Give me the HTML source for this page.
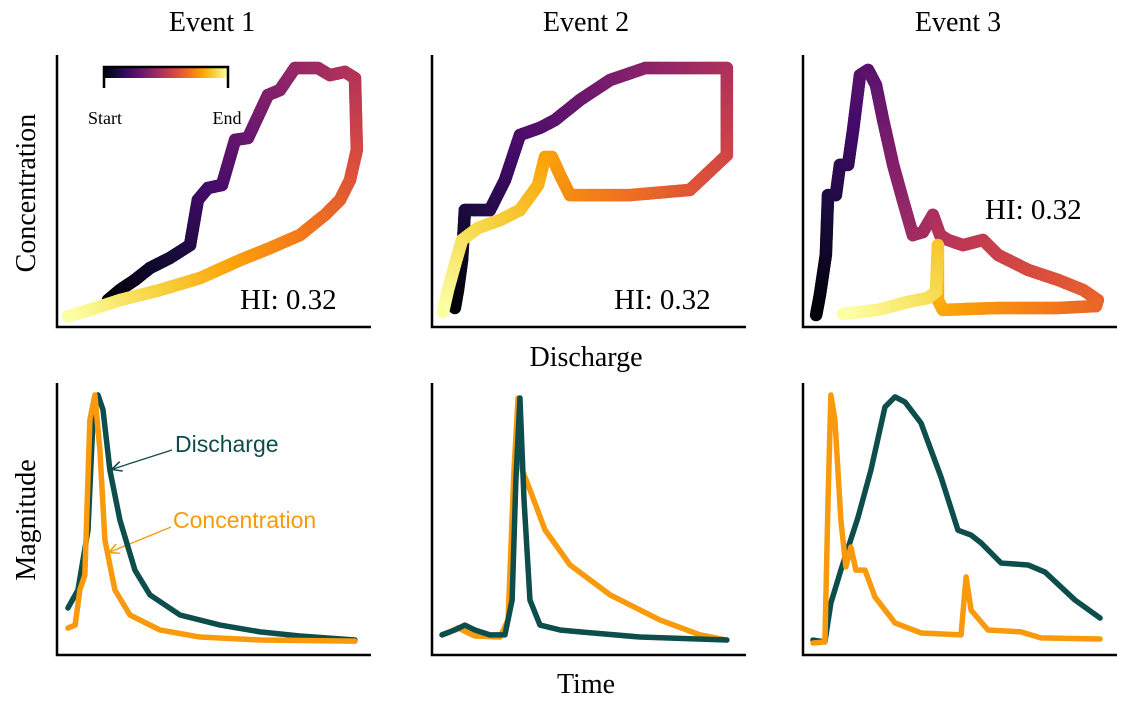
<!DOCTYPE html>
<html><head><meta charset="utf-8"><style>
body{margin:0;background:#fff;}
svg{display:block;font-family:"Liberation Serif",serif;}
</style></head><body>
<svg id="fig" width="1129" height="704" viewBox="0 0 1129 704">
<defs>
<linearGradient id="inf" x1="0" x2="1" y1="0" y2="0">
<stop offset="0" stop-color="#000004"/><stop offset="0.1" stop-color="#160b39"/><stop offset="0.2" stop-color="#420a68"/><stop offset="0.3" stop-color="#6a176e"/><stop offset="0.4" stop-color="#932667"/><stop offset="0.5" stop-color="#bc3754"/><stop offset="0.6" stop-color="#dd513a"/><stop offset="0.7" stop-color="#f37819"/><stop offset="0.8" stop-color="#fca50a"/><stop offset="0.9" stop-color="#f6d746"/><stop offset="1" stop-color="#fcffa4"/>
</linearGradient>
<marker id="arT" markerWidth="8" markerHeight="8" refX="7" refY="4" orient="auto"><path d="M0,0 L8,4 L0,8" fill="none" stroke="#0d4d4b" stroke-width="1.2"/></marker>
<marker id="arO" markerWidth="8" markerHeight="8" refX="7" refY="4" orient="auto"><path d="M0,0 L8,4 L0,8" fill="none" stroke="#f89a0c" stroke-width="1.2"/></marker>
</defs>
<text x="212" y="31" font-size="28" text-anchor="middle">Event 1</text>
<text x="586" y="31" font-size="28" text-anchor="middle">Event 2</text>
<text x="958" y="31" font-size="28" text-anchor="middle">Event 3</text>
<text transform="translate(35,193) rotate(-90)" font-size="28" text-anchor="middle">Concentration</text>
<text x="586" y="366" font-size="28" text-anchor="middle">Discharge</text>
<text transform="translate(35,520) rotate(-90)" font-size="28" text-anchor="middle">Magnitude</text>
<text x="586" y="693" font-size="28" text-anchor="middle">Time</text>
<g>
<rect x="104" y="67" width="124" height="11" fill="url(#inf)"/>
<path d="M104,88 V67 H228 V88" fill="none" stroke="#000" stroke-width="2.5"/>
<text x="105" y="124" font-size="18" text-anchor="middle">Start</text>
<text x="227" y="124" font-size="18" text-anchor="middle">End</text>
</g>
<text x="240" y="309" font-size="29">HI: 0.32</text>
<text x="614" y="309" font-size="29">HI: 0.32</text>
<text x="985" y="219" font-size="29">HI: 0.32</text>
<g>
<text x="175" y="452" font-size="23" fill="#0d4d4b" font-family="Liberation Sans,sans-serif">Discharge</text>
<line x1="172" y1="450" x2="113" y2="469" stroke="#0d4d4b" stroke-width="1.3" marker-end="url(#arT)"/>
</g>
<g>
<text x="173" y="528" font-size="23" fill="#f89a0c" font-family="Liberation Sans,sans-serif">Concentration</text>
<line x1="171" y1="527" x2="110" y2="552" stroke="#f89a0c" stroke-width="1.3" marker-end="url(#arO)"/>
</g>
<g id="marks"></g>
</svg>
<script>
// Hysteresis loops (discharge %, concentration %)
const hq1=[16.3,20.1,24.9,29.7,36.1,42.5,45,48.2,52.7,56.9,61,67.4,71.2,76,83.4,87.2,92,95.2,95.8,93.6,90.4,85.6,77.6,68,58.5,45.7,32.9,20.1,10.5,3.5];
const hc1=[9.9,13.6,17.3,21.7,25.4,30.1,46.7,51.1,52.2,68.8,69.5,85.3,87.1,95.2,95.2,92.6,93.8,91.5,65.1,54,46.7,41.2,33.8,29,24.6,18,13.6,9.9,6.3,4];
const hq2=[7.3,8.3,9.6,10.5,18.5,23.3,28.1,34.5,39.3,47.3,56.9,68.1,85.6,94.2,94.2,82.4,63.3,44.1,40.9,38.3,36.1,33.9,28.1,21.7,14.7,9.6,7.3,5.1,3.5];
const hc2=[7,13.6,24.6,43,43,54,70.6,73.2,76.1,83.5,90.8,95.2,95.2,95.2,63.2,50.4,48.5,48.5,55.9,62.5,62.5,52.2,43,39.3,36.4,32,22.8,13.6,5.5];
const hq3=[4.2,5.4,7.3,8,10.5,11.8,14.4,16,18.2,20.8,23.3,25.6,28.8,31.9,35.1,38.3,41.5,43.8,46.3,51.1,57.5,62.3,71.9,81.5,89.5,94.2,93.6,81.5,62.3,44.7,43.1,43.1,42.5,39.9,33.5,23.9,12.8];
const hc3=[4.4,11.8,26.5,48.5,48.5,59.6,59.6,72.4,92.6,94.5,89,76.1,59.6,46.7,33.8,34.9,41.2,33.8,32,30.1,32,26.5,21,17.3,13.6,9.9,7.7,7,7,6.3,9.9,30.1,12.9,10.7,9.2,6.3,4.8];
// Time series (time %, magnitude %)
const t1q=[3.5,6.7,9.9,11.5,13.1,14.7,16.9,20.1,24.9,29.7,39.3,52.1,64.9,77.6,95.2];
const m1q=[17.3,23.9,45.9,86.4,95.6,90.1,68,49.6,31.2,22.1,14.7,11,8.5,7,5.5];
const t1c=[3.5,5.8,7.3,8.9,10.5,12.1,13.7,15.3,18.5,23.3,32.9,45.7,64.9,95.2];
const m1c=[9.9,11,23.9,29.4,86.4,95.6,75.4,42.3,23.9,14.7,9.2,6.6,5.5,5.1];
const t2q=[3.2,7.3,10.5,13.7,18.5,23.3,25.6,26.8,28.1,29.4,31.3,34.5,40.9,47.3,66.5,94.2];
const m2q=[7.4,9.2,11,9.2,7.4,7.4,20.2,64.3,94.5,57,20.2,11,9.2,8.5,6.6,5.5];
const t2c=[3.2,5.8,8.3,10.9,13.7,21.7,24.3,26.2,27.5,28.8,31.3,36.1,44.1,56.9,72.8,85.6,94.2];
const m2c=[7.4,8.5,10,8.5,7,6.6,12.9,68,94.5,68,60.7,46,33.1,22.1,12.9,7.4,5.5];
const t3q=[3.2,7,8.9,12.1,17.6,21.7,26.2,29.4,32.6,37.7,44.1,49.5,53.7,56.9,63.3,71.9,77.3,86.9,94.9];
const m3q=[5.5,4.8,19.1,31.2,50.7,68,91.2,94.9,93,85.3,65.4,45.9,44.1,41.2,33.8,33.1,30.5,20.2,13.6];
const t3c=[3.2,7,8,8.9,10.2,12.1,13.7,15.3,16.9,19.8,23,29.4,37.7,50.5,52.1,53.7,59.1,69.6,76,94.9];
const m3c=[4.4,4.8,57,95.6,86.4,49.6,32.4,39.7,31.2,31.2,21.3,11.8,8.1,7.4,28.7,16.5,9.2,8.5,6.3,5.9];

const NS='http://www.w3.org/2000/svg';
const marks=document.getElementById('marks');
const colX=[57,432,803], W=313, H=272, rowB=[327,655];
function sx(c,v){return colX[c]+v/100*W;}
function sy(r,v){return rowB[r]-v/100*H;}
const stops=[[0,0,0,4],[.1,22,11,57],[.2,66,10,104],[.3,106,23,110],[.4,147,38,103],[.5,188,55,84],[.6,221,81,58],[.7,243,120,25],[.8,252,165,10],[.9,246,215,70],[1,252,255,164]];
function inferno(t){for(let i=1;i<stops.length;i++){if(t<=stops[i][0]){const a=stops[i-1],b=stops[i],f=(t-a[0])/(b[0]-a[0]);return 'rgb('+[1,2,3].map(k=>Math.round(a[k]+f*(b[k]-a[k]))).join(',')+')';}}return 'rgb(252,255,164)';}
function loop(c,xs,ys,name){
  const g=document.createElementNS(NS,'g');
  
  
  const pts=xs.map((v,i)=>[sx(c,v),sy(0,ys[i])]);
  let L=[0];for(let i=1;i<pts.length;i++)L.push(L[i-1]+Math.hypot(pts[i][0]-pts[i-1][0],pts[i][1]-pts[i-1][1]));
  const tot=L[L.length-1];
  for(let i=1;i<pts.length;i++){
    const n=Math.max(1,Math.ceil((L[i]-L[i-1])/4));
    for(let k=0;k<n;k++){
      const a=k/n,b=(k+1)/n;
      const ln=document.createElementNS(NS,'line');
      ln.setAttribute('x1',pts[i-1][0]+(pts[i][0]-pts[i-1][0])*a);
      ln.setAttribute('y1',pts[i-1][1]+(pts[i][1]-pts[i-1][1])*a);
      ln.setAttribute('x2',pts[i-1][0]+(pts[i][0]-pts[i-1][0])*b);
      ln.setAttribute('y2',pts[i-1][1]+(pts[i][1]-pts[i-1][1])*b);
      ln.setAttribute('stroke',inferno((L[i-1]+(L[i]-L[i-1])*(a+b)/2)/tot));
      ln.setAttribute('stroke-width','12.5');ln.setAttribute('stroke-linecap','round');
      g.appendChild(ln);
    }
  }
  marks.appendChild(g);
}
function series(c,xs,ys,color,name){
  const p=document.createElementNS(NS,'polyline');
  
  
  p.setAttribute('points',xs.map((v,i)=>sx(c,v)+','+sy(1,ys[i])).join(' '));
  p.setAttribute('fill','none');p.setAttribute('stroke',color);p.setAttribute('stroke-width','5.5');p.setAttribute('stroke-linejoin','round');p.setAttribute('stroke-linecap','round');
  marks.appendChild(p);
}
function axes(c,r){
  const p=document.createElementNS(NS,'path');
  
  
  p.setAttribute('d','M'+colX[c]+','+(rowB[r]-272)+' V'+rowB[r]+' H'+(colX[c]+314));
  p.setAttribute('fill','none');p.setAttribute('stroke','#000');p.setAttribute('stroke-width','2.5');
  marks.appendChild(p);
}
loop(0,hq1,hc1,'hysteresis-loop-event-1');
loop(1,hq2,hc2,'hysteresis-loop-event-2');
loop(2,hq3,hc3,'hysteresis-loop-event-3');
const T='#0d4d4b',O='#f89a0c';
series(0,t1q,m1q,T,'discharge-line-event-1');series(0,t1c,m1c,O,'concentration-line-event-1');
series(1,t2c,m2c,O,'concentration-line-event-2');series(1,t2q,m2q,T,'discharge-line-event-2');
series(2,t3q,m3q,T,'discharge-line-event-3');series(2,t3c,m3c,O,'concentration-line-event-3');
for(let c=0;c<3;c++){axes(c,0);axes(c,1);}
</script>
</body></html>
